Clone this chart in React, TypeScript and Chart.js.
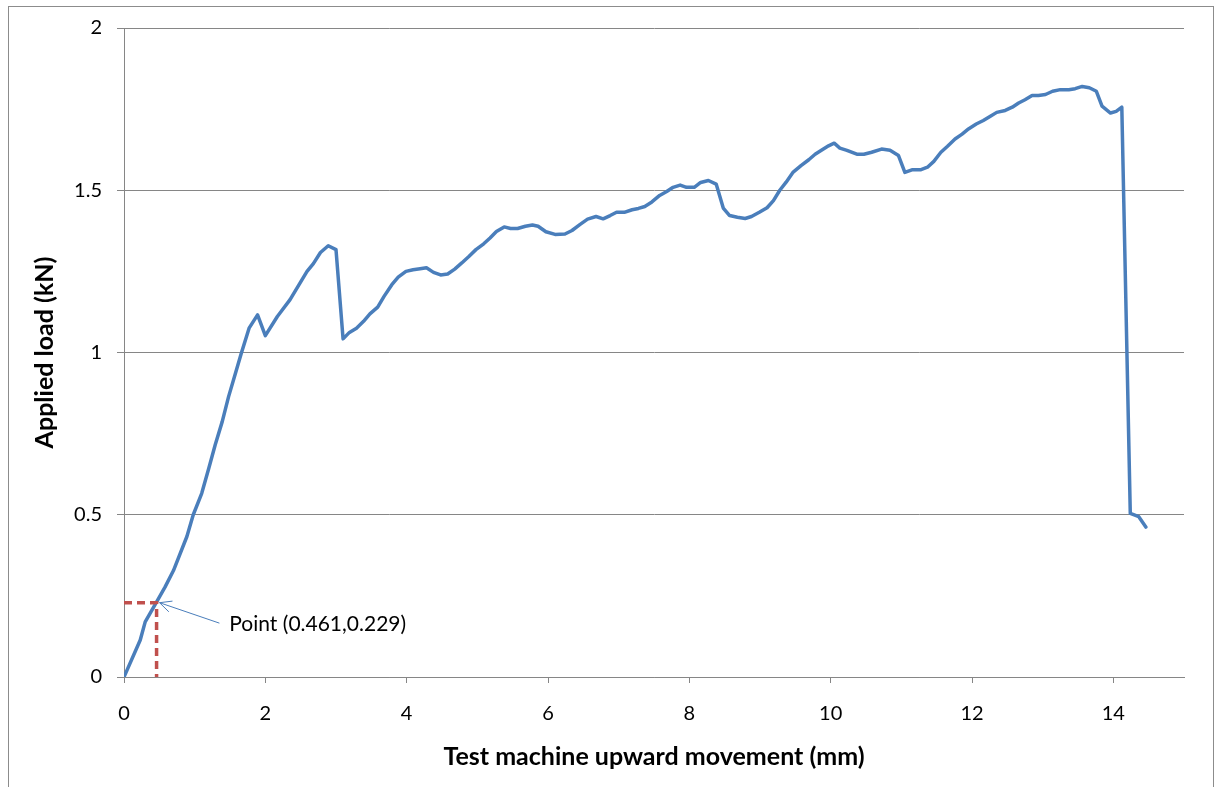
import React, { useEffect, useRef } from "react";
import { Chart, registerables } from "chart.js";

Chart.register(...registerables);

// Test machine upward movement (mm)
const displacement = [
  0.0, 0.23, 0.3, 0.45, 0.58, 0.7, 0.89, 0.98, 1.1, 1.2, 1.29, 1.39, 1.48, 1.57, 1.66, 1.77, 1.89,
  2.0, 2.17, 2.35, 2.49, 2.59, 2.68, 2.78, 2.89, 3.0, 3.1, 3.19, 3.29, 3.39, 3.48, 3.59, 3.68, 3.79,
  3.88, 3.99, 4.09, 4.19, 4.28, 4.38, 4.48, 4.58, 4.68, 4.78, 4.88, 4.98, 5.09, 5.18, 5.27, 5.38,
  5.47, 5.57, 5.68, 5.78, 5.86, 5.97, 6.1, 6.24, 6.34, 6.45, 6.56, 6.68, 6.78, 6.88, 6.97, 7.08,
  7.19, 7.28, 7.37, 7.47, 7.58, 7.68, 7.77, 7.87, 7.96, 8.07, 8.16, 8.27, 8.38, 8.48, 8.57, 8.68,
  8.79, 8.88, 8.99, 9.1, 9.19, 9.28, 9.37, 9.47, 9.58, 9.69, 9.78, 9.88, 9.97, 10.05, 10.13, 10.23,
  10.37, 10.47, 10.58, 10.72, 10.84, 10.96, 11.05, 11.15, 11.27, 11.37, 11.46, 11.56, 11.65, 11.76,
  11.86, 11.95, 12.06, 12.16, 12.26, 12.35, 12.47, 12.57, 12.66, 12.75, 12.85, 12.94, 13.04, 13.14,
  13.25, 13.37, 13.46, 13.56, 13.66, 13.76, 13.84, 13.96, 14.04, 14.12, 14.24, 14.36, 14.46,
];

// Applied load (kN)
const load = [
  0.0, 0.114, 0.17, 0.227, 0.277, 0.328, 0.433, 0.5, 0.566, 0.643, 0.715, 0.787, 0.864, 0.931, 0.998,
  1.075, 1.116, 1.052, 1.111, 1.163, 1.214, 1.25, 1.274, 1.308, 1.329, 1.317, 1.042, 1.062, 1.075,
  1.096, 1.119, 1.14, 1.173, 1.209, 1.232, 1.25, 1.255, 1.258, 1.261, 1.247, 1.239, 1.242, 1.257,
  1.276, 1.296, 1.317, 1.335, 1.353, 1.373, 1.387, 1.382, 1.382, 1.389, 1.393, 1.389, 1.372, 1.364,
  1.365, 1.376, 1.394, 1.411, 1.419, 1.412, 1.422, 1.432, 1.432, 1.44, 1.444, 1.45, 1.464, 1.484,
  1.496, 1.509, 1.516, 1.509, 1.509, 1.524, 1.53, 1.519, 1.445, 1.422, 1.417, 1.413, 1.419, 1.432,
  1.446, 1.468, 1.5, 1.525, 1.556, 1.576, 1.594, 1.611, 1.625, 1.637, 1.645, 1.63, 1.623, 1.611,
  1.611, 1.617, 1.627, 1.623, 1.607, 1.555, 1.563, 1.563, 1.571, 1.589, 1.617, 1.635, 1.658, 1.673,
  1.689, 1.704, 1.715, 1.728, 1.74, 1.746, 1.756, 1.769, 1.779, 1.792, 1.792, 1.795, 1.805, 1.81,
  1.81, 1.813, 1.82, 1.816, 1.805, 1.759, 1.738, 1.743, 1.756, 0.504, 0.494, 0.462,
];

// Marked point
const markedX = [0, 0.461, 0.461];
const markedY = [0.229, 0.229, 0];
const pointLabel = "Point (0.461,0.229)";

const xTicks = [0, 2, 4, 6, 8, 10, 12, 14];
const yTicks = [0, 0.5, 1, 1.5, 2];

const FONT = "Lato, 'Open Sans', sans-serif";
const GRID = "#868686";

const decorPlugin = {
  id: "decor",
  beforeDraw(chart: any) {
    const { ctx, width, height } = chart;
    ctx.save();
    ctx.fillStyle = "#ffffff";
    ctx.fillRect(0, 0, width, height);
    ctx.strokeStyle = "#8c8c8c";
    ctx.lineWidth = 1;
    ctx.strokeRect(8.5, 6.5, width - 15, height + 20);
    ctx.restore();
  },
  afterDatasetsDraw(chart: any) {
    const { ctx, scales } = chart;
    const xs = scales.x;
    const ys = scales.y;
    const tipX = xs.getPixelForValue(markedX[1]) + 3;
    const tipY = ys.getPixelForValue(markedY[0]);
    const tailX = xs.getPixelForValue(1.35);
    const tailY = ys.getPixelForValue(0.166);
    ctx.save();
    ctx.strokeStyle = "#4A7EBB";
    ctx.lineWidth = 1;
    ctx.beginPath();
    ctx.moveTo(tailX, tailY);
    ctx.lineTo(tipX, tipY);
    const ang = Math.atan2(tailY - tipY, tailX - tipX);
    const len = 13;
    const spread = 0.45;
    ctx.moveTo(tipX + len * Math.cos(ang - spread), tipY + len * Math.sin(ang - spread));
    ctx.lineTo(tipX, tipY);
    ctx.lineTo(tipX + len * Math.cos(ang + spread), tipY + len * Math.sin(ang + spread));
    ctx.stroke();
    ctx.fillStyle = "#000000";
    ctx.font = `21px ${FONT}`;
    ctx.textAlign = "left";
    ctx.textBaseline = "middle";
    ctx.fillText(pointLabel, xs.getPixelForValue(1.49), ys.getPixelForValue(0.163));
    ctx.restore();
  },
};

export default function App() {
  const ref = useRef<HTMLCanvasElement>(null);
  useEffect(() => {
    if (!ref.current) return;
    const curve = displacement.map((x, i) => ({ x, y: load[i] }));
    const marker = markedX.map((x, i) => ({ x, y: markedY[i] }));
    const chart = new Chart(ref.current, {
      type: "scatter",
      data: {
        datasets: [
          {
            data: marker,
            showLine: true,
            borderColor: "#C0504D",
            borderWidth: 3.5,
            borderDash: [8, 5],
            pointRadius: 0,
            fill: false,
          },
          {
            data: curve,
            showLine: true,
            borderColor: "#4A7EBB",
            borderWidth: 3.5,
            borderJoinStyle: "round",
            borderCapStyle: "round",
            pointRadius: 0,
            tension: 0,
            fill: false,
          },
        ],
      },
      options: {
        animation: false,
        responsive: false,
        layout: { padding: { top: 28, right: 36, left: 0, bottom: 0 } },
        plugins: { legend: { display: false }, tooltip: { enabled: false } },
        scales: {
          x: {
            type: "linear",
            min: 0,
            max: 15,
            afterBuildTicks: (s: any) => {
              s.ticks = xTicks.map((v) => ({ value: v }));
            },
            afterFit: (s: any) => {
              s.height = 110;
            },
            grid: { drawOnChartArea: false, drawTicks: true, tickLength: 6, color: GRID },
            border: { display: true, color: GRID },
            ticks: {
              color: "#000",
              font: { family: FONT, size: 20 },
              padding: 19,
              maxRotation: 0,
              callback: (v: any) => String(v),
            },
            title: {
              display: true,
              text: "Test machine upward movement (mm)",
              color: "#000",
              font: { family: FONT, size: 25, weight: "bold" },
              padding: { top: 0, bottom: 15 },
            },
          },
          y: {
            type: "linear",
            min: 0,
            max: 2,
            afterBuildTicks: (s: any) => {
              s.ticks = yTicks.map((v) => ({ value: v }));
            },
            afterFit: (s: any) => {
              s.width = 124;
            },
            grid: { drawOnChartArea: true, drawTicks: true, tickLength: 7, color: GRID },
            border: { display: true, color: GRID },
            ticks: {
              color: "#000",
              font: { family: FONT, size: 20 },
              padding: 15,
              callback: (v: any) => String(v),
            },
            title: {
              display: true,
              text: "Applied load (kN)",
              color: "#000",
              font: { family: FONT, size: 25, weight: "bold" },
              padding: { top: 30, bottom: 0 },
            },
          },
        },
      },
      plugins: [decorPlugin],
    });
    return () => chart.destroy();
  }, []);
  return (
    <div style={{ position: "fixed", left: 0, top: 0, width: 1220, height: 787 }}>
      <canvas ref={ref} width={1220} height={787} style={{ display: "block" }} />
    </div>
  );
}
